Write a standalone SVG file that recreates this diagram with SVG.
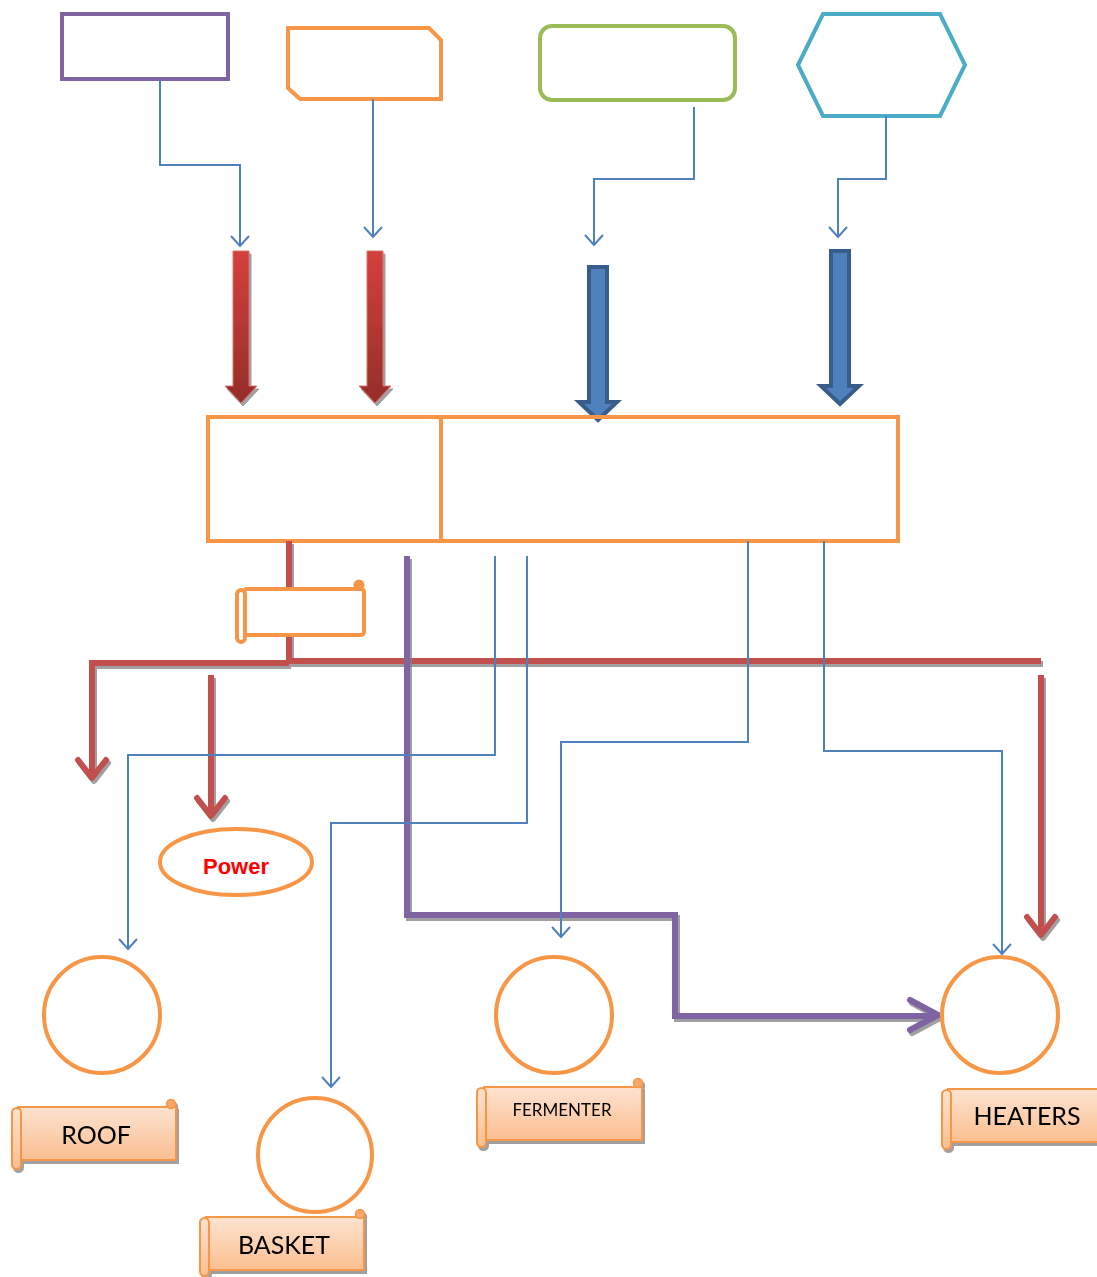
<svg xmlns="http://www.w3.org/2000/svg" width="1097" height="1277" viewBox="0 0 1097 1277">
<style>
.ob{fill:none;stroke:#F79646;stroke-width:4}
.bl{fill:none;stroke:#4F81BD;stroke-width:2}
.rd{fill:none;stroke:#C0504D;stroke-width:6;stroke-linejoin:miter}
.rdh{fill:none;stroke:#C0504D;stroke-width:6;stroke-linecap:round;stroke-linejoin:round}
.pu{fill:none;stroke:#8064A2;stroke-width:6}
.puh{fill:none;stroke:#8064A2;stroke-width:6;stroke-linecap:round;stroke-linejoin:round}
.lbl{font-family:Lato,"Liberation Sans",sans-serif;fill:#000;text-anchor:middle}
.scb{fill:url(#peach);stroke:#F79646;stroke-width:2}
</style>
<defs>
<linearGradient id="redg" x1="0" y1="0" x2="0" y2="1">
<stop offset="0" stop-color="#D4403C"/><stop offset="1" stop-color="#952D2A"/>
</linearGradient>
<linearGradient id="peach" x1="0" y1="0" x2="0" y2="1">
<stop offset="0" stop-color="#FDE3D0"/><stop offset="1" stop-color="#FBBE90"/>
</linearGradient>
<filter id="sh" x="-20%" y="-20%" width="140%" height="140%">
<feDropShadow dx="2" dy="3" stdDeviation="0.6" flood-color="#808080" flood-opacity="0.75"/>
</filter>
</defs>

<g id="top-purple"><rect x="62" y="14" width="166" height="65" fill="#fff" stroke="#8064A2" stroke-width="4"/></g>
<g id="top-orange"><path d="M288,28 H429 L441,40 V99 H300 L288,88 Z" class="ob" fill="#fff"/></g>
<g id="top-green"><rect x="540" y="26" width="195" height="74" rx="12" fill="#fff" stroke="#9BBB59" stroke-width="4"/></g>
<g id="top-hex"><path d="M798,65 L823,14 H940 L965,65 L940,116 H823 Z" fill="#fff" stroke="#4BACC6" stroke-width="4"/></g>

<g id="block-arrows">
<path d="M233,251 H249 V386 H257 L241,403 L225,386 H233 Z" fill="url(#redg)" stroke="#D9726F" stroke-width="1" filter="url(#sh)"/>
<path d="M367,251 H383 V386 H391 L375,403 L359,386 H367 Z" fill="url(#redg)" stroke="#D9726F" stroke-width="1" filter="url(#sh)"/>
<path d="M589,267 H607 V402 H617 L598,420 L579,402 H589 Z" fill="#4F81BD" stroke="#385D8A" stroke-width="4" stroke-linejoin="miter"/>
<path d="M831,251 H849 V386 H859 L840,404 L821,386 H831 Z" fill="#4F81BD" stroke="#385D8A" stroke-width="4" stroke-linejoin="miter"/>
</g>

<g id="main-box">
<rect x="208" y="417" width="690" height="124" class="ob"/>
<line x1="441" y1="417" x2="441" y2="541" stroke="#F79646" stroke-width="4"/>
</g>

<g id="connectors">
<path class="bl" d="M160,79 V165 H240 V246"/><path class="bl" d="M231,236 L240,246 L249,236"/>
<path class="bl" d="M373,99 V237"/><path class="bl" d="M364,227 L373,237 L382,227"/>
<path class="bl" d="M694,107 V179 H594 V245"/><path class="bl" d="M585,235 L594,245 L603,235"/>
<path class="bl" d="M886,116 V179 H838 V237"/><path class="bl" d="M829,227 L838,237 L847,227"/>

<g filter="url(#sh)">
<path class="rd" d="M289,541 V661"/>
<path class="rd" d="M1041,661 H289 M289,663 H92 V776"/>
<path class="rdh" d="M78,760 L92,778 L106,760"/>
<path class="rd" d="M211,675 V814"/>
<path class="rdh" d="M197,798 L211,816 L225,798"/>
<path class="rd" d="M1041,675 V934"/>
<path class="rdh" d="M1027,917 L1041,935 L1055,917"/>
</g>

<g filter="url(#sh)">
<path class="pu" d="M407,556 V915 H675 V1016 H936"/>
<path class="puh" d="M910,1000 L938,1015 L910,1030"/>
</g>

<path class="bl" d="M495,556 V755 H128 V949"/><path class="bl" d="M119,939 L128,949 L137,939"/>
<path class="bl" d="M527,556 V823 H331 V1087"/><path class="bl" d="M322,1077 L331,1087 L340,1077"/>
<path class="bl" d="M748,541 V742 H561 V937"/><path class="bl" d="M552,927 L561,937 L570,927"/>
<path class="bl" d="M824,541 V751 H1002 V954"/><path class="bl" d="M993,944 L1002,954 L1011,944"/>
</g>

<g id="small-scroll">
<rect x="244" y="589" width="120" height="46" rx="3" fill="#fff" stroke="#F79646" stroke-width="4"/>
<circle cx="359" cy="585" r="5.5" fill="#F79646"/>
<rect x="237" y="590" width="8" height="52" rx="4" fill="#fff" stroke="#F79646" stroke-width="4"/>
</g>

<g id="power">
<ellipse cx="236" cy="862" rx="76" ry="33" class="ob" stroke-width="4"/>
<text x="236" y="874" font-family="'Liberation Sans',Arial,sans-serif" font-weight="bold" font-size="22" fill="#FF0000" text-anchor="middle">Power</text>
</g>

<g id="roof-circle"><circle cx="102" cy="1015" r="58" class="ob"/></g>
<g id="basket-circle"><circle cx="315" cy="1155" r="57" class="ob"/></g>
<g id="fermenter-circle"><circle cx="554" cy="1015" r="58" class="ob"/></g>
<g id="heaters-circle"><circle cx="1000" cy="1015" r="58" class="ob"/></g>

<g id="roof-label" filter="url(#sh)">
<rect x="18" y="1107" width="158" height="53" class="scb"/>
<circle cx="171" cy="1104" r="4.5" fill="#F9A66B" stroke="#F79646" stroke-width="1.5"/>
<rect x="12" y="1108" width="9" height="61" rx="4.5" class="scb"/>
<text x="96" y="1144" class="lbl" font-size="25">ROOF</text>
</g>
<g id="basket-label" filter="url(#sh)">
<rect x="206" y="1217" width="158" height="53" class="scb"/>
<circle cx="360" cy="1214" r="4.5" fill="#F9A66B" stroke="#F79646" stroke-width="1.5"/>
<rect x="200" y="1218" width="9" height="58" rx="4.5" class="scb"/>
<text x="284" y="1254" class="lbl" font-size="25">BASKET</text>
</g>
<g id="fermenter-label" filter="url(#sh)">
<rect x="484" y="1087" width="158" height="53" class="scb"/>
<circle cx="638" cy="1083" r="4.5" fill="#F9A66B" stroke="#F79646" stroke-width="1.5"/>
<rect x="477" y="1088" width="9" height="59" rx="4.5" class="scb"/>
<text x="562" y="1116" class="lbl" font-size="17">FERMENTER</text>
</g>
<g id="heaters-label" filter="url(#sh)">
<rect x="948" y="1089" width="158" height="53" class="scb"/>
<rect x="942" y="1090" width="9" height="59" rx="4.5" class="scb"/>
<text x="1027" y="1125" class="lbl" font-size="25">HEATERS</text>
</g>
</svg>
